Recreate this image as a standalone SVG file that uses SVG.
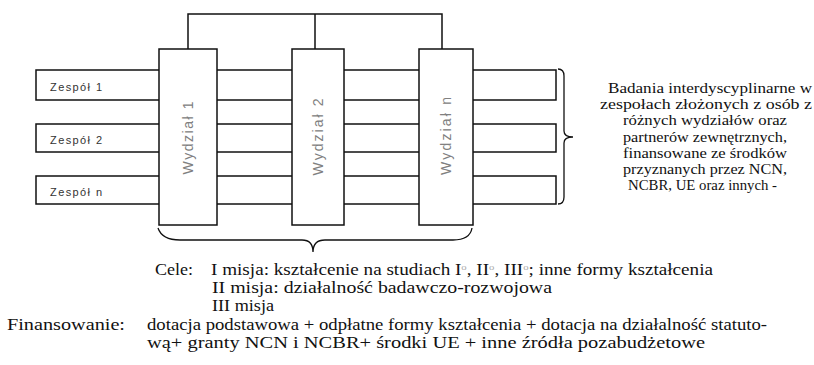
<svg xmlns="http://www.w3.org/2000/svg" width="814" height="365" viewBox="0 0 814 365">
<style>
.box{fill:#fff;stroke:#111;stroke-width:1.5}
.row{fill:none;stroke:#111;stroke-width:1.5}
.ln{fill:none;stroke:#111;stroke-width:1.5}
.br{fill:none;stroke:#111;stroke-width:1.3}
.zt{font-family:"Liberation Sans",Arial,sans-serif;font-size:11px;fill:#333}
.wt{font-family:"Liberation Sans",Arial,sans-serif;font-size:14px;fill:#808080}
.st{font-family:"Liberation Serif","Times New Roman",serif;font-size:16px;fill:#111}
.rt{font-family:"Liberation Serif","Times New Roman",serif;font-size:15px;fill:#111}
.deg{fill:#aaa;font-size:9px}
</style>
<rect width="814" height="365" fill="#fff"/>
<g id="connectors">
<path class="ln" d="M188,49 V14 H442 V49 M315,14 V49"/>
</g>
<g id="zespol1"><rect class="row" x="36" y="70" width="520" height="30"/><text class="zt" x="50" y="91" textLength="52">Zespół 1</text></g>
<g id="zespol2"><rect class="row" x="36" y="124" width="520" height="28"/><text class="zt" x="50" y="144" textLength="52">Zespół 2</text></g>
<g id="zespoln"><rect class="row" x="36" y="176" width="520" height="28"/><text class="zt" x="50" y="196" textLength="52">Zespół n</text></g>
<g id="wydzial1"><rect class="box" x="159" y="49" width="58" height="176"/><text class="wt" transform="translate(188,138) rotate(-90)" text-anchor="middle" dominant-baseline="central" textLength="73">Wydział 1</text></g>
<g id="wydzial2"><rect class="box" x="292" y="49" width="52" height="176"/><text class="wt" transform="translate(318,137) rotate(-90)" text-anchor="middle" dominant-baseline="central" textLength="77">Wydział 2</text></g>
<g id="wydzialn"><rect class="box" x="419" y="49" width="54" height="176"/><text class="wt" transform="translate(446,136) rotate(-90)" text-anchor="middle" dominant-baseline="central" textLength="78">Wydział n</text></g>
<g id="brace-right"><path class="br" d="M558,69 Q564,69 564,76 L564,131 Q564,137 573,137 Q564,137 564,143 L564,197 Q564,204 558,204"/></g>
<g id="brace-bottom"><path class="br" d="M158,228 Q162,240 180,240 L302,240 Q313,240 313,252 Q313,240 325,240 L453,240 Q470,240 472,228"/></g>
<g id="opis">
<text class="rt" x="608" y="93" textLength="204" lengthAdjust="spacingAndGlyphs">Badania interdyscyplinarne w</text>
<text class="rt" x="600" y="109" textLength="212" lengthAdjust="spacingAndGlyphs">zespołach złożonych z osób z</text>
<text class="rt" x="623" y="125" textLength="164" lengthAdjust="spacingAndGlyphs">różnych wydziałów oraz</text>
<text class="rt" x="623" y="142" textLength="164" lengthAdjust="spacingAndGlyphs">partnerów zewnętrznych,</text>
<text class="rt" x="623" y="158" textLength="164" lengthAdjust="spacingAndGlyphs">finansowane ze środków</text>
<text class="rt" x="623" y="174" textLength="164" lengthAdjust="spacingAndGlyphs">przyznanych przez NCN,</text>
<text class="rt" x="628" y="190" textLength="149" lengthAdjust="spacingAndGlyphs">NCBR, UE oraz innych -</text>
</g>
<g id="cele">
<text class="st" x="155" y="275" textLength="38" lengthAdjust="spacingAndGlyphs">Cele:</text>
<text class="st" x="211" y="275" textLength="502" lengthAdjust="spacingAndGlyphs">I misja: kształcenie na studiach I<tspan class="deg" dy="-5">o</tspan><tspan dy="5">, II</tspan><tspan class="deg" dy="-5">o</tspan><tspan dy="5">, III</tspan><tspan class="deg" dy="-5">o</tspan><tspan dy="5">; inne formy kształcenia</tspan></text>
<text class="st" x="212" y="293" textLength="340" lengthAdjust="spacingAndGlyphs">II misja: działalność badawczo-rozwojowa</text>
<text class="st" x="212" y="311" textLength="62" lengthAdjust="spacingAndGlyphs">III misja</text>
</g>
<g id="finansowanie">
<text class="st" x="7" y="330" textLength="118" lengthAdjust="spacingAndGlyphs">Finansowanie:</text>
<text class="st" x="147" y="330" textLength="620" lengthAdjust="spacingAndGlyphs">dotacja podstawowa + odpłatne formy kształcenia + dotacja na działalność statuto-</text>
<text class="st" x="147" y="348" textLength="558" lengthAdjust="spacingAndGlyphs">wą+ granty NCN i NCBR+ środki UE + inne źródła pozabudżetowe</text>
</g>
</svg>
